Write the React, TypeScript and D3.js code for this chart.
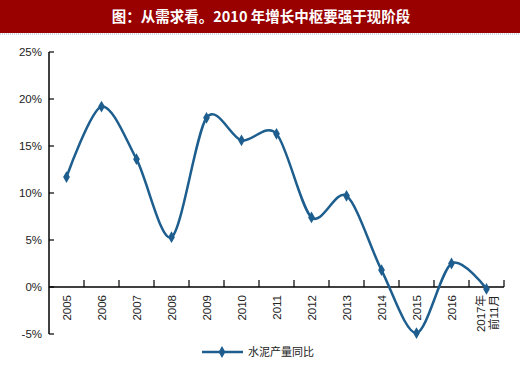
import { useRef, useEffect } from 'react'
import * as d3 from 'd3'

const title = '图：从需求看。2010 年增长中枢要强于现阶段'
const categories = ['2005', '2006', '2007', '2008', '2009', '2010', '2011', '2012', '2013', '2014', '2015', '2016', '2017年\n前11月']
const cementYoY = [11.7, 19.2, 13.6, 5.3, 18.0, 15.6, 16.3, 7.4, 9.7, 1.8, -4.9, 2.5, -0.2]
const yTicks = [-5, 0, 5, 10, 15, 20, 25]
const seriesName = '水泥产量同比'

const W = 520
const H = 370
const lineColor = '#1d5e8e'

const App = () => {
  const ref = useRef<SVGSVGElement>(null)

  useEffect(() => {
    if (!ref.current) return
    const svg = d3.select(ref.current)
    svg.selectAll('*').remove()

    // title bar
    svg.append('rect').attr('x', 0).attr('y', 0).attr('width', W).attr('height', 33).attr('fill', '#990000')
    svg.append('line')
      .attr('x1', 0).attr('x2', W).attr('y1', 34).attr('y2', 34)
      .attr('stroke', '#9bb5dd').attr('stroke-width', 1).attr('stroke-dasharray', '1,1')
    svg.append('text')
      .attr('x', 261).attr('y', 22)
      .attr('text-anchor', 'middle')
      .attr('fill', '#fff')
      .attr('font-family', '"Noto Sans CJK SC", sans-serif')
      .attr('font-weight', 'bold')
      .attr('font-size', 14.5)
      .text(title)

    const left = 49
    const right = 504

    const x = d3.scaleBand<string>().domain(categories).range([left, right])
    const y = d3.scaleLinear().domain([-5, 25]).range([334, 52])

    const font = '"Liberation Sans", Arial, sans-serif'

    // y axis
    const g = svg.append('g')
    g.append('line')
      .attr('x1', left).attr('x2', left).attr('y1', y(25)).attr('y2', y(-5))
      .attr('stroke', '#000').attr('stroke-width', 1.5)
    yTicks.forEach((t) => {
      g.append('line')
        .attr('x1', left).attr('x2', left + 5).attr('y1', y(t)).attr('y2', y(t))
        .attr('stroke', '#000').attr('stroke-width', 1.2)
      g.append('text')
        .attr('x', left - 7).attr('y', y(t) + 4)
        .attr('text-anchor', 'end')
        .attr('font-family', font).attr('font-size', 11.5)
        .attr('fill', '#222')
        .text(`${t}%`)
    })

    // x axis
    g.append('line')
      .attr('x1', left).attr('x2', right).attr('y1', y(0)).attr('y2', y(0))
      .attr('stroke', '#000').attr('stroke-width', 1.5)
    categories.forEach((c, i) => {
      const xb = (x(c) as number) + x.bandwidth()
      g.append('line')
        .attr('x1', xb).attr('x2', xb).attr('y1', y(0)).attr('y2', y(0) - 7)
        .attr('stroke', '#000').attr('stroke-width', 1.2)
      const cx = (x(c) as number) + x.bandwidth() / 2
      const lines = c.split('\n')
      const t = g.append('text')
        .attr('transform', `translate(${cx},${y(0) + 8}) rotate(-90)`)
        .attr('text-anchor', 'end')
        .attr('font-family', '"Liberation Sans", "Noto Sans CJK SC", sans-serif')
        .attr('font-size', 11.5)
        .attr('fill', '#222')
      lines.forEach((l, j) => {
        t.append('tspan')
          .attr('x', 0)
          .attr('y', lines.length === 1 ? 4 : -2 + j * 13)
          .text(l)
      })
      void i
    })

    // series
    const pts = categories.map((c, i) => [(x(c) as number) + x.bandwidth() / 2, y(cementYoY[i])] as [number, number])
    const line = d3.line().curve(d3.curveCardinal.tension(0.1))
    svg.append('path')
      .attr('d', line(pts))
      .attr('fill', 'none')
      .attr('stroke', lineColor)
      .attr('stroke-width', 2.5)
    const diamond = d3.symbol().type(d3.symbolDiamond).size(40)
    svg.selectAll('path.m')
      .data(pts)
      .enter()
      .append('path')
      .attr('class', 'm')
      .attr('d', diamond)
      .attr('transform', (d) => `translate(${d[0]},${d[1]})`)
      .attr('fill', lineColor)

    // legend
    const ly = 352
    svg.append('line')
      .attr('x1', 202).attr('x2', 243).attr('y1', ly).attr('y2', ly)
      .attr('stroke', lineColor).attr('stroke-width', 2.5)
    svg.append('path')
      .attr('d', diamond)
      .attr('transform', `translate(222,${ly})`)
      .attr('fill', lineColor)
    svg.append('text')
      .attr('x', 248).attr('y', ly + 4)
      .attr('font-family', '"Noto Sans CJK SC", sans-serif')
      .attr('font-size', 11)
      .attr('fill', '#222')
      .text(seriesName)
  }, [])

  return <svg ref={ref} width={W} height={H} style={{ position: 'absolute', left: 0, top: 0, background: '#fff' }} />
}

export default App
